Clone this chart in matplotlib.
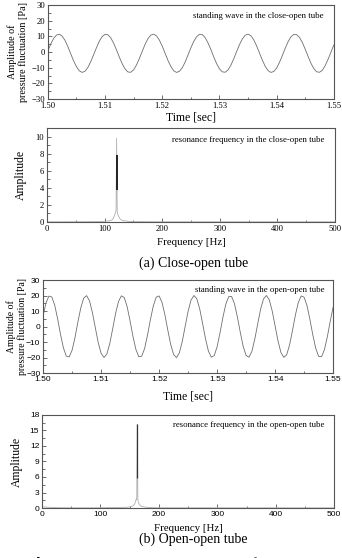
import matplotlib
matplotlib.use("Agg")
import matplotlib.pyplot as plt
from matplotlib.ticker import MultipleLocator

plt.rcParams['font.family'] = ['Liberation Serif', 'DejaVu Serif']

# time axis of both pressure records, 0.5 ms steps from 1.50 s to 1.55 s
t_ms_step = 0.0005
t_start = 1.50

# (a) close-open tube, pressure fluctuation [Pa]
p_close = [0.8, 5.2, 8.7, 10.9, 11.5, 10.2, 7.5, 3.5, -1.1, -5.6,
           -9.4, -12.0, -13.0, -12.2, -9.8, -6.1, -1.7, 2.9, 7.0, 10.0,
           11.4, 11.1, 9.1, 5.7, 1.4, -3.2, -7.5, -10.8, -12.7, -12.9,
           -11.3, -8.2, -4.1, 0.5, 5.0, 8.6, 10.9, 11.5, 10.4, 7.7,
           3.8, -0.8, -5.3, -9.2, -11.9, -13.0, -12.3, -10.0, -6.4, -1.9,
           2.7, 6.8, 9.8, 11.4, 11.2, 9.3, 5.9, 1.7, -3.0, -7.3,
           -10.7, -12.6, -12.9, -11.4, -8.4, -4.3, 0.3, 4.7, 8.4, 10.8,
           11.5, 10.5, 7.9, 4.0, -0.5, -5.1, -9.0, -11.8, -13.0, -12.4,
           -10.2, -6.6, -2.2, 2.4, 6.6, 9.7, 11.3, 11.2, 9.4, 6.2,
           1.9, -2.7, -7.1, -10.5, -12.6, -12.9, -11.6, -8.6, -4.6, 0.0,
           4.5]

# (b) open-open tube
p_open = [7.0, 15.2, 19.6, 19.1, 13.8, 5.1, -5.0, -13.7, -19.1, -19.6,
          -15.3, -7.1, 2.9, 12.1, 18.3, 19.9, 16.6, 9.0, -0.7, -10.3,
          -17.3, -20.0, -17.7, -10.9, -1.4, 8.4, 16.2, 19.8, 18.6, 12.6,
          3.5, -6.5, -14.8, -19.5, -19.2, -14.2, -5.6, 4.4, 13.3, 18.9,
          19.7, 15.6, 7.6, -2.3, -11.6, -18.1, -20.0, -16.9, -9.5, 0.2,
          9.8, 17.0, 20.0, 17.9, 11.4, 2.0, -7.9, -15.8, -19.8, -18.8,
          -13.1, -4.1, 5.9, 14.4, 19.3, 19.4, 14.6, 6.1, -3.8, -12.9,
          -18.7, -19.8, -16.0, -8.1, 1.7, 11.2, 17.8, 20.0, 17.2, 10.0,
          0.4, -9.3, -16.7, -19.9, -18.2, -11.8, -2.5, 7.4, 15.5, 19.7,
          18.9, 13.5, 4.6, -5.4, -14.0, -19.2, -19.5, -15.0, -6.7, 3.3,
          12.4]

time = [t_start + i * t_ms_step for i in range(len(p_close))]

# spectra
freq_a = [0, 20, 50, 80, 100, 105, 110, 113, 115, 117, 119, 120, 121, 122,
          123, 125, 127, 130, 133, 136, 140, 145, 150, 160, 180, 200, 300, 400, 500]
amp_a = [0.02, 0.02, 0.03, 0.04, 0.08, 0.12, 0.15, 0.25, 0.4, 0.7, 1.1, 1.3, 9.8, 1.2,
         0.9, 0.6, 0.35, 0.2, 0.12, 0.15, 0.08, 0.06, 0.05, 0.04, 0.03, 0.02, 0.02, 0.02, 0.02]
peak_a = 121
core_a = (3.8, 7.8)

freq_b = [0, 5, 10, 20, 30, 60, 100, 140, 150, 155, 158, 160, 161, 162, 163, 164,
          165, 167, 170, 175, 180, 185, 200, 300, 400, 500]
amp_b = [0.25, 0.2, 0.15, 0.1, 0.05, 0.03, 0.05, 0.1, 0.2, 0.35, 0.7, 1.2, 1.7, 1.6, 16.2, 1.5,
         1.1, 0.6, 0.3, 0.2, 0.12, 0.08, 0.04, 0.03, 0.03, 0.03]
peak_b = 163
core_b = (5.8, 16.2)

wave_color = '#6e6e6e'
spine_color = '#555555'

fig = plt.figure(figsize=(3.42, 5.58), dpi=100)


def style(ax, sans=False):
    for s in ax.spines.values():
        s.set_color(spine_color)
        s.set_linewidth(0.8)
    ax.tick_params(which='both', direction='in', top=False, right=False,
                   color=spine_color, width=0.6, pad=2,
                   labelsize=6.2 if not sans else 6.0)
    ax.tick_params(which='major', length=3)
    ax.tick_params(which='minor', length=1.8)
    if sans:
        for lab in ax.get_xticklabels() + ax.get_yticklabels():
            lab.set_family('Liberation Sans')


# ---- (a) time trace
ax1 = fig.add_axes([0.140, 0.8226, 0.836, 0.168])
ax1.plot(time, p_close, color=wave_color, lw=0.6)
ax1.set_xlim(1.50, 1.55)
ax1.set_ylim(-30, 30)
ax1.set_xticks([1.50, 1.51, 1.52, 1.53, 1.54, 1.55])
ax1.xaxis.set_minor_locator(MultipleLocator(0.005))
ax1.yaxis.set_major_locator(MultipleLocator(10))
ax1.yaxis.set_minor_locator(MultipleLocator(5))
ax1.set_xticklabels(['1.50', '1.51', '1.52', '1.53', '1.54', '1.55'])
style(ax1)
ax1.set_ylabel('Amplitude of\npressure fluctuation [Pa]', fontsize=7.3, linespacing=1.25)
ax1.yaxis.set_label_coords(-0.068, 0.5)
ax1.set_xlabel('Time [sec]', fontsize=8.5)
ax1.xaxis.set_label_coords(0.5, -0.135)
ax1.text(0.965, 0.885, 'standing wave in the close-open tube', transform=ax1.transAxes,
         ha='right', va='center', fontsize=6.3)

# ---- (a) spectrum
ax2 = fig.add_axes([0.137, 0.6022, 0.843, 0.1684])
ax2.plot(freq_a, amp_a, color='#b0b0b0', lw=0.6)
ax2.vlines(peak_a, core_a[0], core_a[1], color='#222222', lw=1.4)
ax2.set_xlim(0, 500)
ax2.set_ylim(0, 11)
ax2.xaxis.set_major_locator(MultipleLocator(100))
ax2.xaxis.set_minor_locator(MultipleLocator(50))
ax2.yaxis.set_major_locator(MultipleLocator(2))
ax2.yaxis.set_minor_locator(MultipleLocator(1))
style(ax2)
ax2.set_ylabel('Amplitude', fontsize=8.5)
ax2.yaxis.set_label_coords(-0.07, 0.5)
ax2.set_xlabel('Frequency [Hz]', fontsize=7.8)
ax2.xaxis.set_label_coords(0.5, -0.17)
ax2.text(0.962, 0.875, 'resonance frequency in the close-open tube', transform=ax2.transAxes,
         ha='right', va='center', fontsize=6.3)

fig.text(0.565, 0.5287, '(a) Close-open tube', ha='center', va='center', fontsize=10)

# ---- (b) time trace
ax3 = fig.add_axes([0.126, 0.3315, 0.848, 0.1667])
ax3.plot(time, p_open, color=wave_color, lw=0.6)
ax3.set_xlim(1.50, 1.55)
ax3.set_ylim(-30, 30)
ax3.set_xticks([1.50, 1.51, 1.52, 1.53, 1.54, 1.55])
ax3.xaxis.set_minor_locator(MultipleLocator(0.005))
ax3.yaxis.set_major_locator(MultipleLocator(10))
ax3.yaxis.set_minor_locator(MultipleLocator(5))
ax3.set_xticklabels(['1.50', '1.51', '1.52', '1.53', '1.54', '1.55'])
style(ax3, sans=True)
ax3.set_ylabel('Amplitude of\npressure fluctuation [Pa]', fontsize=7.0, linespacing=1.25)
ax3.yaxis.set_label_coords(-0.055, 0.5)
ax3.set_xlabel('Time [sec]', fontsize=8.5)
ax3.xaxis.set_label_coords(0.5, -0.19)
ax3.text(0.972, 0.89, 'standing wave in the open-open tube', transform=ax3.transAxes,
         ha='right', va='center', fontsize=6.3)

# ---- (b) spectrum
ax4 = fig.add_axes([0.123, 0.0896, 0.854, 0.1667])
ax4.plot(freq_b, amp_b, color='#b0b0b0', lw=0.6)
ax4.vlines(peak_b, core_b[0], core_b[1], color='#333333', lw=0.9)
ax4.set_xlim(0, 500)
ax4.set_ylim(0, 18)
ax4.xaxis.set_major_locator(MultipleLocator(100))
ax4.xaxis.set_minor_locator(MultipleLocator(50))
ax4.yaxis.set_major_locator(MultipleLocator(3))
ax4.yaxis.set_minor_locator(MultipleLocator(1.5))
style(ax4, sans=True)
ax4.set_ylabel('Amplitude', fontsize=8.5)
ax4.yaxis.set_label_coords(-0.065, 0.5)
ax4.set_xlabel('Frequency [Hz]', fontsize=7.8)
ax4.xaxis.set_label_coords(0.5, -0.17)
ax4.text(0.966, 0.89, 'resonance frequency in the open-open tube', transform=ax4.transAxes,
         ha='right', va='center', fontsize=6.3)

fig.text(0.565, 0.034, '(b) Open-open tube', ha='center', va='center', fontsize=10)
fig.text(0.075, 0.0054, r'$\mathbf{Fig.\ 1.}$ Standing wave and resonance frequency',
         ha='left', va='top', fontsize=10)

fig.savefig('out.png', dpi=100)
